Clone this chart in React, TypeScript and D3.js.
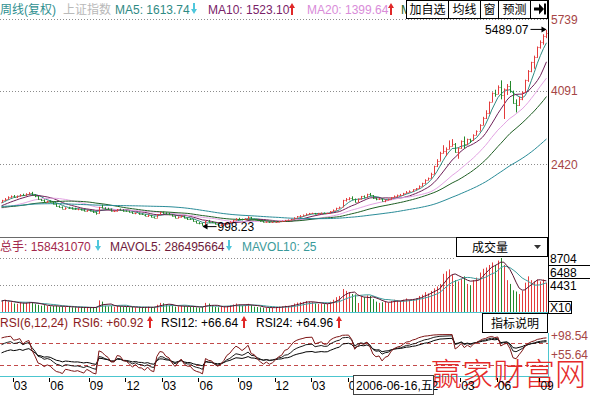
import React from "react";
import * as d3 from "d3";

// trading weeks (Fridays) – holiday weeks without trading are skipped
const holidayWeeks = [
  "2004-05-07", "2004-10-08", "2005-02-11", "2005-05-06", "2005-10-07",
  "2006-02-03", "2006-05-05", "2006-10-06", "2007-02-23", "2007-05-04",
];

// weekly closes before the visible window (only used to warm up MA / RSI)
const preCloses = [
  1480, 1450, 1430, 1420, 1410, 1400, 1380, 1360, 1357, 1320, 1360, 1450, 1490,
  1500, 1510, 1500, 1490, 1480, 1460, 1470, 1510, 1580, 1620, 1540, 1520, 1550,
  1540, 1520, 1500, 1490, 1486, 1480, 1500, 1510, 1480, 1460, 1440, 1430, 1420,
  1400, 1410, 1400, 1380, 1367, 1350, 1370, 1360, 1340, 1330, 1310, 1340, 1390,
  1410, 1420, 1440, 1470, 1497, 1530, 1550,
];

const opens = [
  1550, 1590, 1630, 1665, 1690, 1675, 1690, 1720, 1700, 1740,
  1765, 1720, 1680, 1610, 1595, 1560, 1570, 1555, 1510, 1460,
  1440, 1400, 1420, 1410, 1395, 1385, 1387, 1370, 1350, 1360,
  1342, 1310, 1290, 1430, 1420, 1396, 1380, 1340, 1340, 1380,
  1375, 1345, 1340, 1320, 1290, 1300, 1270, 1260, 1240, 1250,
  1210, 1191, 1265, 1310, 1306, 1280, 1270, 1230, 1190, 1210,
  1230, 1185, 1160, 1159, 1110, 1080, 1060, 1015, 1110, 1090,
  1085, 1045, 1020, 1030, 1050, 1083, 1100, 1135, 1170, 1162,
  1150, 1170, 1200, 1160, 1155, 1130, 1110, 1092, 1100, 1085,
  1090, 1099, 1110, 1115, 1135, 1140, 1161, 1195, 1220, 1240,
  1258, 1285, 1290, 1295, 1280, 1290, 1300, 1295, 1298, 1335,
  1370, 1410, 1440, 1590, 1620, 1641, 1620, 1560, 1620, 1680,
  1672, 1730, 1700, 1640, 1612, 1620, 1570, 1600, 1610, 1658,
  1690, 1710, 1720, 1752, 1790, 1800, 1837, 1860, 1920, 1980,
  2060, 2099, 2200, 2370, 2500, 2675, 2716, 2770, 2830, 2880,
  2700, 2780, 2950, 2880, 2990, 2960, 3090, 3183, 3320, 3480,
  3580, 3841, 4050, 4030, 4180, 4000, 4130, 4200, 4090, 3820,
  3780, 3910, 4060, 4345, 4560, 4750, 4870, 5107, 5218, 5355,
];
const highs = [
  1600, 1640, 1680, 1700, 1710, 1700, 1730, 1740, 1750, 1775,
  1783, 1730, 1690, 1620, 1610, 1580, 1590, 1560, 1520, 1470,
  1450, 1430, 1440, 1430, 1420, 1400, 1400, 1385, 1370, 1370,
  1355, 1320, 1440, 1490, 1430, 1420, 1400, 1360, 1390, 1400,
  1385, 1360, 1350, 1330, 1310, 1305, 1285, 1270, 1260, 1255,
  1220, 1270, 1320, 1330, 1315, 1300, 1275, 1240, 1220, 1240,
  1240, 1195, 1180, 1160, 1120, 1090, 1070, 1120, 1140, 1110,
  1090, 1050, 1040, 1060, 1090, 1110, 1140, 1180, 1190, 1170,
  1180, 1223, 1210, 1170, 1160, 1140, 1120, 1110, 1105, 1100,
  1105, 1115, 1125, 1140, 1150, 1165, 1200, 1230, 1250, 1265,
  1290, 1300, 1305, 1300, 1300, 1310, 1310, 1305, 1340, 1380,
  1420, 1445, 1600, 1640, 1660, 1680, 1630, 1630, 1690, 1700,
  1740, 1757, 1710, 1650, 1640, 1630, 1610, 1625, 1660, 1700,
  1720, 1735, 1760, 1800, 1815, 1840, 1870, 1930, 1990, 2070,
  2110, 2220, 2380, 2530, 2700, 2850, 2800, 2960, 2990, 2900,
  2800, 2960, 3050, 3000, 3000, 3100, 3190, 3330, 3500, 3650,
  3850, 4060, 4120, 4220, 4335, 4150, 4250, 4320, 4100, 3900,
  3960, 4080, 4350, 4570, 4760, 4900, 5110, 5250, 5390, 5489.07,
];
const lows = [
  1545, 1580, 1620, 1650, 1660, 1640, 1680, 1690, 1695, 1730,
  1710, 1660, 1600, 1570, 1530, 1540, 1540, 1500, 1440, 1420,
  1395, 1380, 1395, 1385, 1375, 1360, 1360, 1340, 1330, 1340,
  1300, 1260, 1285, 1410, 1390, 1370, 1335, 1320, 1335, 1360,
  1330, 1330, 1310, 1280, 1270, 1260, 1255, 1230, 1210, 1200,
  1189, 1190, 1260, 1280, 1270, 1250, 1220, 1185, 1180, 1200,
  1180, 1140, 1140, 1100, 1070, 1040, 1010, 998.23, 1080, 1070,
  1040, 1010, 1005, 1020, 1040, 1070, 1090, 1130, 1150, 1130,
  1140, 1160, 1150, 1145, 1120, 1100, 1085, 1085, 1075, 1074,
  1080, 1090, 1100, 1110, 1125, 1135, 1160, 1190, 1210, 1235,
  1250, 1270, 1280, 1270, 1265, 1285, 1290, 1285, 1295, 1330,
  1365, 1400, 1440, 1560, 1590, 1600, 1540, 1550, 1610, 1650,
  1660, 1690, 1620, 1590, 1600, 1560, 1545, 1590, 1605, 1650,
  1660, 1690, 1710, 1745, 1770, 1790, 1820, 1850, 1910, 1970,
  2050, 2090, 2190, 2350, 2490, 2660, 2600, 2760, 2820, 2680,
  2540, 2770, 2770, 2850, 2900, 2950, 3080, 3180, 3310, 3450,
  3570, 3840, 3960, 4020, 3900, 3450, 4000, 4050, 3800, 3600,
  3750, 3880, 4050, 4300, 4520, 4600, 4850, 5060, 5150, 5300,
];
const closes = [
  1590, 1630, 1665, 1690, 1675, 1690, 1720, 1700, 1740, 1765,
  1720, 1680, 1610, 1595, 1560, 1570, 1555, 1510, 1460, 1440,
  1400, 1420, 1410, 1395, 1385, 1387, 1370, 1350, 1360, 1342,
  1310, 1290, 1430, 1420, 1396, 1380, 1340, 1340, 1380, 1375,
  1345, 1340, 1320, 1290, 1300, 1270, 1266, 1240, 1250, 1210,
  1191, 1265, 1310, 1306, 1280, 1270, 1230, 1190, 1210, 1230,
  1185, 1160, 1159, 1110, 1080, 1060, 1015, 1110, 1090, 1085,
  1045, 1020, 1030, 1050, 1083, 1100, 1135, 1170, 1162, 1150,
  1170, 1200, 1160, 1155, 1130, 1110, 1092, 1100, 1085, 1090,
  1099, 1110, 1115, 1135, 1140, 1161, 1195, 1220, 1240, 1258,
  1285, 1290, 1295, 1280, 1290, 1300, 1295, 1298, 1335, 1370,
  1410, 1440, 1590, 1620, 1641, 1620, 1560, 1620, 1680, 1672,
  1730, 1700, 1640, 1612, 1620, 1570, 1600, 1610, 1658, 1690,
  1710, 1720, 1752, 1790, 1800, 1837, 1860, 1920, 1980, 2060,
  2099, 2200, 2370, 2500, 2675, 2716, 2770, 2830, 2880, 2700,
  2780, 2950, 2880, 2990, 2960, 3090, 3183, 3320, 3480, 3580,
  3841, 4050, 4030, 4180, 4000, 4130, 4200, 4090, 3820, 3780,
  3910, 4060, 4345, 4560, 4750, 4870, 5107, 5218, 5355, 5420,
];
// weekly volume, in the units of the volume axis
const volumes = [
  1900, 2100, 1800, 1700, 1500, 1450, 1650, 1550, 1600, 1750,
  1700, 1400, 1300, 1150, 1250, 1100, 1050, 1100, 1150, 1000,
  1050, 1000, 950, 900, 900, 850, 900, 850, 900, 800,
  850, 950, 2000, 1800, 1150, 1050, 1100, 1000, 1150, 1050,
  1000, 950, 900, 950, 900, 850, 800, 950, 1000, 900,
  850, 1300, 1600, 1550, 1300, 1200, 1100, 1000, 1050, 1150,
  1100, 1000, 950, 1050, 900, 850, 950, 1600, 1500, 1100,
  950, 900, 950, 1000, 1100, 1200, 1350, 1500, 1300, 1150,
  1250, 1450, 1250, 1000, 950, 900, 850, 850, 800, 850,
  900, 1000, 1050, 1150, 1100, 1200, 1500, 1650, 1700, 1750,
  1900, 1800, 1700, 1500, 1450, 1500, 1400, 1450, 1800, 2100,
  2500, 2700, 3800, 3500, 3300, 3000, 2941, 1584, 2600, 2500,
  2800, 2700, 2200, 1800, 1600, 1700, 1800, 1600, 1900, 2100,
  2000, 1900, 2100, 2300, 2100, 2200, 2300, 2700, 2900, 3300,
  3100, 3500, 3900, 4200, 4600, 6200, 6600, 6900, 6000, 5200,
  5000, 5400, 5800, 4600, 4400, 5200, 5600, 6400, 7000, 7200,
  7600, 8000, 7600, 8300, 8704, 7600, 5200, 4600, 3600, 3400,
  3000, 3500, 4800, 5800, 5200, 5000, 5300, 5000, 5300, 4800,
];

const priceTicks = [5739, 4091, 2420];
const volTicks = [8704, 6488, 4431];
const rsiTicks = [98.54, 55.64];
const rsiLevels = [80, 30];
const maPeriods = [5, 10, 20, 30, 60];
const maColors = ["#2f8a80", "#6e1f58", "#e3a3e3", "#1f5f24", "#2a8c98"];
const quarterMonths = [2, 5, 8, 11];

const FONT = "'Liberation Sans', Arial, 'Noto Sans CJK SC', sans-serif";
const CJK = "'Noto Sans CJK SC', sans-serif";
const RIGHT = 548;
const UP = "#e33b3b";
const DOWN = "#23882a";
const AXIS_RED = "#a64545";
const TEAL_BORDER = "#4cc6cf";

function movingAvg(series: number[], n: number) {
  return series.map((_, i) => d3.mean(series.slice(Math.max(0, i - n + 1), i + 1)) as number);
}

// SMA(X,N,1) style smoothing used by RSI in Chinese trading software
function rsi(series: number[], n: number) {
  const out: number[] = [50];
  let up = 0, ab = 0;
  for (let i = 1; i < series.length; i++) {
    const d = series[i] - series[i - 1];
    if (i === 1) { up = Math.max(d, 0); ab = Math.abs(d); }
    else { up = (Math.max(d, 0) + (n - 1) * up) / n; ab = (Math.abs(d) + (n - 1) * ab) / n; }
    out.push(ab ? (up / ab) * 100 : 50);
  }
  return out;
}

function Arrow({ x, y, dir, color }: { x: number; y: number; dir: "up" | "down"; color: string }) {
  // y = text baseline
  const d = dir === "up"
    ? `M${x - 3},${y - 6}L${x},${y - 11}L${x + 3},${y - 6}ZM${x - 1},${y - 6}h2v7h-2Z`
    : `M${x - 3},${y - 5}L${x},${y}L${x + 3},${y - 5}ZM${x - 1},${y - 11}h2v6h-2Z`;
  return <path d={d} fill={color} />;
}

export default function App() {
  const fmt = d3.timeFormat("%Y-%m-%d");
  const dates = d3.timeFriday
    .range(new Date(2004, 0, 30), new Date(2007, 8, 15))
    .filter((d) => !holidayWeeks.includes(fmt(d)));
  const keys = dates.map(fmt);

  const x = d3.scaleBand<string>().domain(keys).range([0, RIGHT]);
  const bw = x.bandwidth();
  const xc = (i: number) => (x(keys[i]) as number) + bw / 2;
  const px = (i: number) => Math.round(xc(i)) + 0.5;

  const yP = d3.scaleLinear().domain([2420, 5739]).range([164, 19]);
  const yV = d3.scaleLinear().domain([0, 8704]).range([313, 258]);
  const yR = d3.scaleLinear().domain([55.64, 98.54]).range([354, 335]);

  const allCloses = preCloses.concat(closes);
  const off = preCloses.length;
  const mas = maPeriods.map((p) => movingAvg(allCloses, p).slice(off));
  const mavol5 = movingAvg(volumes, 5);
  const mavol10 = movingAvg(volumes, 10);
  const rsis = [6, 12, 24].map((p) => rsi(allCloses, p).slice(off));

  const line = (yScale: d3.ScaleLinear<number, number>) =>
    d3.line<number>().x((_, i) => xc(i)).y((v) => yScale(v));

  const ticks = dates
    .map((d, i) => ({ d, i }))
    .filter(({ d, i }) => quarterMonths.includes(d.getMonth()) && (i === 0 || dates[i - 1].getMonth() !== d.getMonth()));

  const lowIdx = d3.minIndex(lows);
  const highIdx = d3.maxIndex(highs);

  return (
    <svg width={590} height={396} style={{ position: "absolute", left: 0, top: 0, background: "#fff" }}
      fontFamily={FONT} fontSize={12}>
      <defs>
        <clipPath id="plot"><rect x={0} y={19} width={RIGHT} height={218} /></clipPath>
        <clipPath id="vol"><rect x={0} y={257} width={RIGHT} height={56} /></clipPath>
        <clipPath id="rsi"><rect x={0} y={333} width={RIGHT} height={43} /></clipPath>
      </defs>

      {/* ---------- main panel ---------- */}
      {priceTicks.map((t) => (
        <g key={t}>
          <line x1={0} x2={RIGHT} y1={Math.round(yP(t)) + 0.5} y2={Math.round(yP(t)) + 0.5}
            stroke="#8c8c8c" strokeDasharray="1,2" />
          <text x={551} y={yP(t) + 4.5} fill={AXIS_RED}>{t}</text>
        </g>
      ))}
      <g clipPath="url(#plot)">
        {mas.map((m, k) => (
          <path key={k} d={line(yP)(m) as string} fill="none" stroke={maColors[k]} strokeWidth={1} />
        ))}
        {closes.map((c, i) => {
          const col = c >= opens[i] ? UP : DOWN;
          const cx = px(i);
          return (
            <g key={i} stroke={col} strokeWidth={1}>
              <line x1={cx} x2={cx} y1={yP(highs[i])} y2={yP(lows[i])} />
              <line x1={cx - 1} x2={cx} y1={Math.round(yP(opens[i])) + 0.5} y2={Math.round(yP(opens[i])) + 0.5} />
              <line x1={cx} x2={cx + 1} y1={Math.round(yP(c)) + 0.5} y2={Math.round(yP(c)) + 0.5} />
            </g>
          );
        })}
      </g>
      {/* extreme markers */}
      <g>
        <text x={px(highIdx) - 18} y={yP(highs[highIdx]) + 4} textAnchor="end">{highs[highIdx].toFixed(2)}</text>
        <line x1={px(highIdx) - 16} x2={px(highIdx) - 1} y1={yP(highs[highIdx]) - 0.5} y2={yP(highs[highIdx]) - 0.5} stroke="#000" />
        <path d={`M${px(highIdx)},${yP(highs[highIdx]) - 0.5}l-5,-3v6Z`} fill="#000" />
        <line x1={px(lowIdx) - 2} x2={px(lowIdx) + 11} y1={yP(lows[lowIdx]) + 0.5} y2={yP(lows[lowIdx]) + 0.5} stroke="#000" />
        <path d={`M${px(lowIdx) - 3},${yP(lows[lowIdx]) + 0.5}l5,-3v6Z`} fill="#000" />
        <text x={px(lowIdx) + 12} y={yP(lows[lowIdx]) + 5}>{lows[lowIdx].toFixed(2)}</text>
      </g>
      <line x1={0} x2={RIGHT} y1={237.5} y2={237.5} stroke="#6a6a6a" />

      {/* title row */}
      <text x={0} y={14} fill="#2f9090">周线(复权)</text>
      <text x={63} y={14} fill="#b9b9b9">上证指数</text>
      <text x={115} y={14} fill="#2f8a84">MA5: 1613.74</text>
      <Arrow x={194} y={14} dir="down" color="#4fc7dc" />
      <text x={208} y={14} fill="#7a2268">MA10: 1523.10</text>
      <Arrow x={292} y={14} dir="up" color="#e02828" />
      <text x={307} y={14} fill="#d98cd9">MA20: 1399.64</text>
      <Arrow x={391} y={14} dir="up" color="#e02828" />
      <text x={401} y={14} fill="#1f5f24">M</text>
      <g>
        <rect x={406.5} y={0.5} width={141} height={18} fill="#fff" stroke="#000" />
        {[448.5, 480.5, 498.5, 530.5].map((v) => (
          <line key={v} x1={v} x2={v} y1={0} y2={19} stroke="#000" />
        ))}
        <text x={427.5} y={14} textAnchor="middle" fontFamily={CJK} fontSize={12}>加自选</text>
        <text x={464.5} y={14} textAnchor="middle" fontFamily={CJK} fontSize={12}>均线</text>
        <text x={489.5} y={14} textAnchor="middle" fontFamily={CJK} fontSize={12}>窗</text>
        <text x={514.5} y={14} textAnchor="middle" fontFamily={CJK} fontSize={12}>预测</text>
        <path d="M534,7.5h5v-4l5,5.5l-5,5.5v-4h-5Z" fill="#000" />
        <rect x={544} y={3.5} width={2} height={11} fill="#000" />
      </g>

      {/* ---------- volume panel ---------- */}
      <text x={0} y={251} fill="#a3284d">总手: 158431070</text>
      <Arrow x={98} y={251} dir="down" color="#4fc7dc" />
      <text x={110} y={251} fill="#6e1a3a">MAVOL5: 286495664</text>
      <Arrow x={229} y={251} dir="down" color="#4fc7dc" />
      <text x={242} y={251} fill="#3a9a9a">MAVOL10: 25</text>
      <rect x={456.5} y={237.5} width={91} height={19} fill="#fff" stroke="#000" />
      <text x={490} y={252} textAnchor="middle" fontFamily={CJK}>成交量</text>
      <path d="M534,245h7l-3.5,4Z" fill="#333" />
      {[8704, 4431].map((t) => (
        <line key={t} x1={0} x2={456} y1={Math.round(yV(t)) + 0.5} y2={Math.round(yV(t)) + 0.5}
          stroke="#8c8c8c" strokeDasharray="1,2" />
      ))}
      <g clipPath="url(#vol)">
        {volumes.map((v, i) => (
          <line key={i} x1={px(i)} x2={px(i)} y1={yV(0)} y2={yV(v)}
            stroke={closes[i] >= opens[i] ? UP : DOWN} strokeWidth={1} />
        ))}
        <path d={line(yV)(mavol10) as string} fill="none" stroke="#3d9c9c" />
        <path d={line(yV)(mavol5) as string} fill="none" stroke="#5a1530" />
      </g>
      {volTicks.map((t) => (
        <text key={t} x={550} y={yV(t) + 5} fill="#000">{t}</text>
      ))}
      <line x1={RIGHT} x2={590} y1={265.5} y2={265.5} stroke="#000" />
      <line x1={RIGHT} x2={590} y1={278.5} y2={278.5} stroke="#000" />
      <rect x={548.5} y={301.5} width={23} height={12} fill="#fff" stroke="#000" />
      <text x={550} y={312} fill="#000">X10</text>
      <line x1={0} x2={RIGHT} y1={312.5} y2={312.5} stroke={TEAL_BORDER} />
      <line x1={RIGHT + 0.5} x2={RIGHT + 0.5} y1={0} y2={313} stroke="#000" />

      {/* ---------- RSI panel ---------- */}
      <text x={0} y={327} fill="#8b1c1c">RSI(6,12,24)</text>
      <text x={73} y={327} fill="#8b1c1c">RSI6: +60.92</text>
      <Arrow x={150} y={327} dir="up" color="#e02828" />
      <text x={161} y={327} fill="#000">RSI12: +66.64</text>
      <Arrow x={244} y={327} dir="up" color="#e02828" />
      <text x={256} y={327} fill="#000">RSI24: +64.96</text>
      <Arrow x={339} y={327} dir="up" color="#e02828" />
      <rect x={482.5} y={313.5} width={65} height={19} fill="#fff" stroke="#000" />
      <text x={515} y={328} textAnchor="middle" fontFamily={CJK}>指标说明</text>
      {rsiLevels.map((l) => (
        <line key={l} x1={0} x2={RIGHT} y1={Math.round(yR(l)) + 0.5} y2={Math.round(yR(l)) + 0.5}
          stroke="#c24a4a" strokeDasharray="4,3" />
      ))}
      <g clipPath="url(#rsi)">
        <path d={line(yR)(rsis[2]) as string} fill="none" stroke="#000" />
        <path d={line(yR)(rsis[1]) as string} fill="none" stroke="#1a1a1a" />
        <path d={line(yR)(rsis[0]) as string} fill="none" stroke="#7d1414" />
      </g>
      {rsiTicks.map((t) => (
        <text key={t} x={551} y={yR(t) + 4.5} fill={AXIS_RED}>+{t.toFixed(2)}</text>
      ))}
      <line x1={0} x2={RIGHT} y1={376.5} y2={376.5} stroke={TEAL_BORDER} />
      <line x1={RIGHT + 0.5} x2={RIGHT + 0.5} y1={333} y2={377} stroke={TEAL_BORDER} />

      {/* watermark */}
      <text x={431} y={385} fontFamily={CJK} fontSize={31} fontWeight={300} fill="#e52a2a">赢家财富网</text>

      {/* time axis */}
      {ticks.map(({ d, i }) => (
        <g key={i}>
          <line x1={Math.round(xc(i)) - 3.5} x2={Math.round(xc(i)) - 3.5} y1={378} y2={382} stroke="#000" />
          <text x={xc(i) - 3} y={390} fill="#000">{d3.timeFormat("%m")(d)}</text>
        </g>
      ))}
      <rect x={353.5} y={375.5} width={80} height={19} fill="#fff" stroke="#404040" />
      <text x={356} y={390} fill="#000">2006-06-16,五</text>
    </svg>
  );
}
